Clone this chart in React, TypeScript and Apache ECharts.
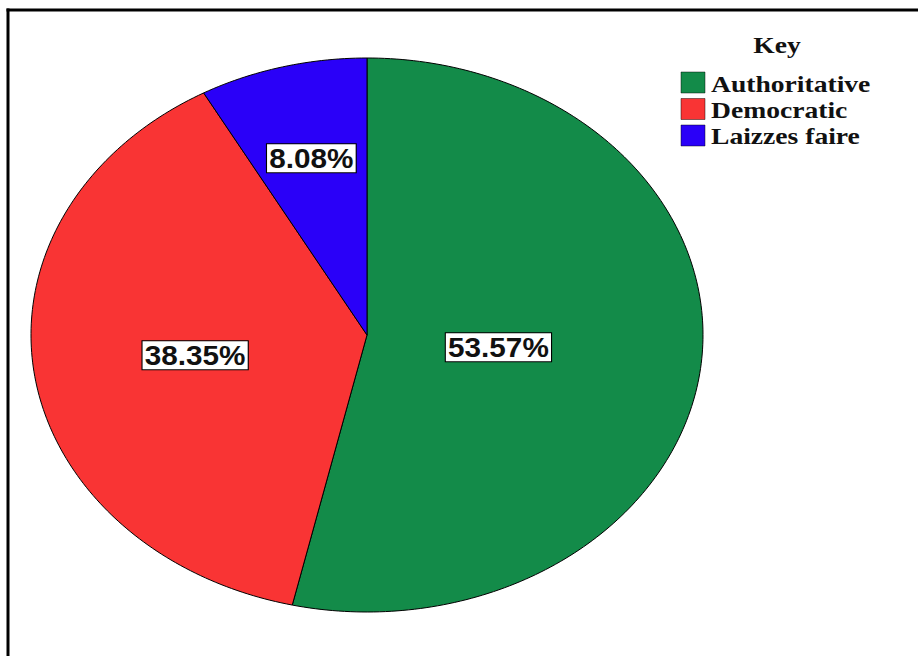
import React, { useEffect, useRef } from "react";
import * as echarts from "echarts";

const categories = ["Authoritative", "Democratic", "Laizzes faire"];
const values = [53.57, 38.35, 8.08];
const colors = ["#138B49", "#F93434", "#2A00F8"];
const legendTitle = "Key";

const CX = 367;
const CY = 335;
const RX = 336;
const RY = 277;

function pt(theta: number, f: number): number[] {
  return [CX + RX * f * Math.sin(theta), CY - RY * f * Math.cos(theta)];
}

export default function App() {
  const ref = useRef<HTMLDivElement>(null);
  useEffect(() => {
    if (!ref.current) return;
    const chart = echarts.init(ref.current, null, { renderer: "svg" });
    const total = values.reduce((a, b) => a + b, 0);
    let acc = 0;
    const data = values.map((v, i) => {
      const start = acc;
      acc += v;
      return { name: categories[i], value: [start / total, acc / total, v] };
    });

    const legend: any[] = [
      {
        type: "text",
        x: 777,
        y: 45,
        scaleX: 1.2,
        style: {
          text: legendTitle,
          fontFamily: "Liberation Serif",
          fontWeight: "bold",
          fontSize: 23,
          fill: "#111",
          align: "center",
          verticalAlign: "middle",
        },
      },
    ];
    categories.forEach((c, i) => {
      legend.push({
        type: "rect",
        shape: { x: 681, y: 72 + 26.5 * i, width: 24, height: 21 },
        style: { fill: colors[i], stroke: "rgba(0,0,0,0.45)", lineWidth: 1 },
      });
      legend.push({
        type: "text",
        x: 711,
        y: 84 + 26 * i,
        scaleX: 1.2,
        style: {
          text: c,
          fontFamily: "Liberation Serif",
          fontWeight: "bold",
          fontSize: 23,
          fill: "#111",
          align: "left",
          verticalAlign: "middle",
        },
      });
    });

    chart.setOption({
      animation: false,
      backgroundColor: "#ffffff",
      graphic: [
        {
          type: "line",
          shape: { x1: 6.5, y1: 10, x2: 918, y2: 10 },
          style: { stroke: "#000", lineWidth: 3 },
        },
        {
          type: "line",
          shape: { x1: 8, y1: 8.5, x2: 8, y2: 656 },
          style: { stroke: "#000", lineWidth: 3 },
        },
        ...legend,
      ],
      series: [
        {
          type: "custom",
          coordinateSystem: "none",
          data,
          renderItem: (params: any, api: any) => {
            const s = api.value(0) * Math.PI * 2;
            const e = api.value(1) * Math.PI * 2;
            const v = api.value(2);
            const n = Math.max(2, Math.ceil(((e - s) * 180) / Math.PI));
            const points: number[][] = [[CX, CY]];
            for (let k = 0; k <= n; k++) {
              points.push(pt(s + ((e - s) * k) / n, 1));
            }
            const span = e - s;
            const half = span / 2;
            const dist = (2 * Math.sin(half)) / (3 * half);
            const lp = pt(s + half, dist);
            return {
              type: "group",
              children: [
                {
                  type: "polygon",
                  shape: { points },
                  style: {
                    fill: colors[params.dataIndex],
                    stroke: "#000",
                    lineWidth: 1,
                  },
                },
                {
                  type: "text",
                  x: lp[0],
                  y: lp[1],
                  scaleX: 1.1,
                  style: {
                    text: v.toFixed(2) + "%",
                    fontFamily: "Liberation Sans",
                    fontWeight: "bold",
                    fontSize: 27,
                    fill: "#111",
                    align: "center",
                    verticalAlign: "middle",
                    backgroundColor: "#ffffff",
                    borderColor: "#000",
                    borderWidth: 1,
                    padding: [1, 2, 0, 2],
                  },
                },
              ],
            };
          },
        },
      ],
    });
    return () => chart.dispose();
  }, []);
  return (
    <div
      ref={ref}
      style={{ position: "fixed", left: 0, top: 0, width: 918, height: 656 }}
    />
  );
}
